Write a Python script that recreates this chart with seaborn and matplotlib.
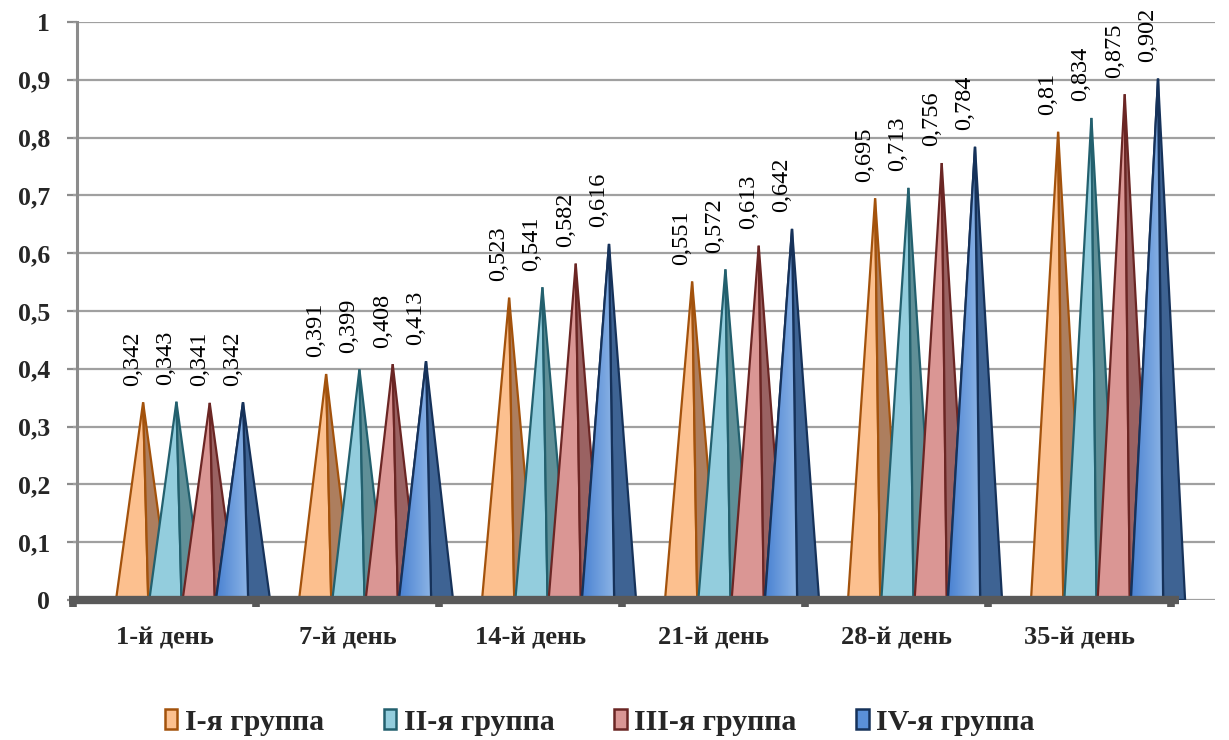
import numpy as np
import pandas as pd
import matplotlib
matplotlib.use("Agg")
import matplotlib.pyplot as plt
import seaborn as sns
from matplotlib.patches import Polygon, Patch
from matplotlib.colors import LinearSegmentedColormap

# ---- data ----
days = ["1-й день", "7-й день", "14-й день", "21-й день", "28-й день", "35-й день"]
groups = ["I-я группа", "II-я группа", "III-я группа", "IV-я группа"]
g1 = [0.342, 0.391, 0.523, 0.551, 0.695, 0.81]
g2 = [0.343, 0.399, 0.541, 0.572, 0.713, 0.834]
g3 = [0.341, 0.408, 0.582, 0.613, 0.756, 0.875]
g4 = [0.342, 0.413, 0.616, 0.642, 0.784, 0.902]
y_ticks = [0, 0.1, 0.2, 0.3, 0.4, 0.5, 0.6, 0.7, 0.8, 0.9, 1]
y_tick_labels = ["0", "0,1", "0,2", "0,3", "0,4", "0,5", "0,6", "0,7", "0,8", "0,9", "1"]

light = ["#FCC08F", "#93CDDD", "#DA9694", "#5A90D8"]
dark = ["#AD7E5E", "#5F8F97", "#9A6262", "#3E6393"]
edge = ["#A3520C", "#23606E", "#6B2624", "#16325A"]

df = pd.DataFrame({
    "day": np.repeat(days, len(groups)),
    "group": groups * len(days),
    "value": np.array([g1, g2, g3, g4]).T.ravel(),
})

sns.set_theme(style="white")
plt.rcParams["font.family"] = ["Liberation Serif", "DejaVu Serif"]

W, H = 1229, 740
fig = plt.figure(figsize=(W / 100, H / 100), dpi=100)
px_unit = 183.0
x_left_px, x_right_px = 73, 1215
ax = fig.add_axes([x_left_px / W, 1 - 600 / H, (x_right_px - x_left_px) / W, (600 - 22) / H])

sns.barplot(data=df, x="day", y="value", hue="group", order=days, hue_order=groups,
            palette=light, width=0.728, ax=ax, legend=False, errorbar=None)

ax.set_xlim(-0.5, -0.5 + (x_right_px - x_left_px) / px_unit)
ax.set_ylim(0, 1)

shift = 0.156       # 3-D perspective offset of the cones
half = 0.148        # half of cone base
shade = 0.028       # shading line offset at base

grad_cmap = LinearSegmentedColormap.from_list("bl", ["#4A82D2", "#8DB5E6"])

for gi, cont in enumerate(ax.containers):
    for p in cont.patches:
        p.set_visible(False)
        cx = p.get_x() + p.get_width() / 2 + shift
        h = p.get_height()
        z = 3 + gi
        lf = Polygon([(cx - half, 0), (cx, h), (cx + shade, 0)], closed=True,
                     facecolor=light[gi], edgecolor=edge[gi], lw=1.6, zorder=z)
        rf = Polygon([(cx + shade, 0), (cx, h), (cx + half, 0)], closed=True,
                     facecolor=dark[gi], edgecolor=edge[gi], lw=1.6, zorder=z)
        ax.add_patch(lf)
        ax.add_patch(rf)
        if gi == 3:
            grad = np.linspace(0, 1, 50).reshape(1, -1)
            im = ax.imshow(grad, cmap=grad_cmap, extent=(cx - half, cx + shade, 0, h),
                           aspect="auto", zorder=z + 0.01, origin="lower")
            im.set_clip_path(lf)
            ol = Polygon([(cx - half, 0), (cx, h), (cx + shade, 0)], closed=True,
                         facecolor="none", edgecolor=edge[gi], lw=1.6, zorder=z + 0.02)
            ax.add_patch(ol)
        ax.annotate(f"{h:g}".replace(".", ","), xy=(cx, h), xytext=(-7.5, 12),
                    textcoords="offset points", rotation=90, ha="center", va="bottom",
                    fontsize=17.5, color="black", annotation_clip=False, zorder=10)

# gridlines (back wall)
for t in y_ticks:
    ax.axhline(t, color="#A0A0A0", lw=1.6, zorder=1)

# floor
floor_end = -0.5 + (1179 - x_left_px) / px_unit
ax.plot([-0.52, floor_end], [0, 0], color="#595959", lw=6, solid_capstyle="butt",
        zorder=20, clip_on=False)
for b in np.arange(-0.5, 5.6, 1.0):
    ax.plot([b, b], [0, -0.012], color="#595959", lw=5.5, solid_capstyle="butt",
            zorder=20, clip_on=False)

# axes styling
for s in ["top", "right", "bottom"]:
    ax.spines[s].set_visible(False)
ax.spines["left"].set_color("#8C8C8C")
ax.spines["left"].set_linewidth(2.2)
ax.spines["left"].set_position(("data", -0.48))
ax.set_yticks(y_ticks)
ax.set_yticklabels(y_tick_labels, fontsize=18.5, fontweight="bold")
ax.tick_params(axis="y", length=7, width=1.6, color="#8C8C8C", pad=12, left=True)
ax.tick_params(axis="x", length=0, pad=19)
ax.set_xticks(range(len(days)))
ax.set_xticklabels(days, fontsize=19, fontweight="bold")
ax.set_xlabel("")
ax.set_ylabel("")
ax.grid(False)

handles = [Patch(facecolor=light[i], edgecolor=edge[i], lw=1.8) for i in range(4)]
fig.legend(handles, groups, loc="center", bbox_to_anchor=(0.488, 1 - 722 / H), ncol=4,
           frameon=False, prop={"family": "Liberation Serif", "weight": "bold", "size": 21.5},
           handlelength=0.42, handleheight=0.65, handletextpad=0.25, columnspacing=2.0)

fig.savefig("out.png", dpi=100)
